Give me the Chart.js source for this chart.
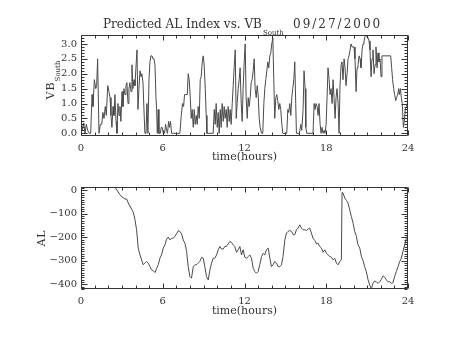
<!DOCTYPE html>
<html>
<head>
<meta charset="utf-8">
<script src="https://cdn.jsdelivr.net/npm/chart.js@4.4.1/dist/chart.umd.min.js"></script>
<style>
  body { margin: 0; background: #fff; }
  canvas { position: absolute; left: 0; }
  #vbChart { top: 0; }
  #alChart { top: 170px; }
</style>
</head>
<body>
<canvas id="vbChart" width="454" height="170"></canvas>
<canvas id="alChart" width="454" height="171"></canvas>
<script>
// x axis ticks (hours)
var hourTicks = [0, 6, 12, 18, 24];

// VB south (top panel)
var vbTicks = [0, 0.5, 1.0, 1.5, 2.0, 2.5, 3.0];
var vbHours = [
  0.00, 0.10, 0.20, 0.29, 0.39, 0.49, 0.61, 0.71, 0.81, 0.88, 0.98, 1.08, 1.15, 1.22, 1.32, 1.42,
  1.52, 1.61, 1.69, 1.78, 1.86, 1.96, 2.05, 2.13, 2.20, 2.27, 2.35, 2.42, 2.49, 2.57, 2.64, 2.71,
  2.79, 2.86, 2.93, 3.01, 3.08, 3.15, 3.23, 3.30, 3.37, 3.45, 3.52, 3.59, 3.67, 3.74, 3.81, 3.89,
  3.96, 4.03, 4.11, 4.18, 4.25, 4.33, 4.40, 4.47, 4.55, 4.62, 4.69, 4.77, 4.84, 4.91, 4.99, 5.06,
  5.13, 5.21, 5.28, 5.35, 5.43, 5.50, 5.55, 5.60, 5.67, 5.72, 5.82, 5.89, 5.96, 6.04, 6.13, 6.21,
  6.28, 6.35, 6.43, 6.50, 6.57, 6.65, 6.77, 7.26, 7.36, 7.45, 7.53, 7.60, 7.70, 7.80, 7.87, 7.94,
  8.02, 8.09, 8.16, 8.24, 8.31, 8.38, 8.46, 8.53, 8.60, 8.68, 8.75, 8.82, 8.90, 8.97, 9.04, 9.12,
  9.19, 9.24, 9.46, 9.70, 9.78, 9.85, 9.92, 10.00, 10.07, 10.14, 10.22, 10.29, 10.36, 10.44, 10.51, 10.58,
  10.66, 10.73, 10.80, 10.88, 10.95, 11.02, 11.10, 11.17, 11.24, 11.32, 11.39, 11.46, 11.54, 11.61, 11.68, 11.76,
  11.83, 11.90, 11.98, 12.05, 12.12, 12.20, 12.27, 12.34, 12.42, 12.49, 12.56, 12.64, 12.71, 12.78, 12.86, 12.93,
  13.00, 13.08, 13.15, 13.25, 13.34, 13.42, 13.49, 13.56, 13.64, 13.71, 13.78, 13.86, 13.93, 14.00, 14.08, 14.15,
  14.22, 14.30, 14.37, 14.44, 14.52, 14.59, 14.66, 14.74, 14.81, 15.10, 15.18, 15.25, 15.32, 15.40, 15.47, 15.54,
  15.62, 15.69, 15.76, 15.81, 15.93, 16.03, 16.13, 16.20, 16.30, 16.37, 16.45, 16.50, 16.57, 17.03, 17.11, 17.18,
  17.25, 17.33, 17.40, 17.47, 17.55, 17.62, 17.69, 17.77, 17.84, 17.91, 17.99, 18.06, 18.13, 18.21, 18.28, 18.35,
  18.43, 18.50, 18.57, 18.65, 18.72, 18.79, 18.87, 18.94, 19.01, 19.09, 19.16, 19.23, 19.31, 19.38, 19.45, 19.53,
  19.60, 19.67, 19.75, 19.82, 19.89, 19.97, 20.04, 20.11, 20.19, 20.26, 20.33, 20.41, 20.48, 20.55, 20.63, 20.70,
  20.77, 20.85, 20.92, 20.99, 21.07, 21.14, 21.21, 21.29, 21.36, 21.43, 21.51, 21.58, 21.65, 21.73, 21.80, 21.87,
  21.95, 22.02, 22.09, 22.17, 22.73, 22.80, 22.87, 22.95, 23.02, 23.10, 23.17, 23.24, 23.32, 23.36, 23.44, 23.51,
  23.58, 23.66, 23.73, 23.80, 23.88, 23.95, 24.00
];
var vbValues = [
  0.5, 0.1, 0.35, 0.0, 0.3, 0.1, 0.0, 0.0, 1.3, 0.9, 1.8, 1.5, 1.6, 2.5, 0.0, 0.3,
  0.3, 0.7, 0.5, 0.9, 0.6, 1.6, 1.4, 1.2, 0.6, 0.2, 0.9, 0.6, 1.3, 0.4, 0.0, 1.0,
  0.6, 0.9, 0.4, 1.4, 0.9, 1.5, 1.3, 1.6, 1.7, 1.0, 1.5, 1.7, 1.4, 2.3, 1.5, 1.8,
  1.6, 2.2, 2.8, 0.8, 1.5, 2.1, 1.9, 2.0, 1.7, 0.8, 0.0, 0.0, 1.0, 0.0, 1.8, 2.4,
  2.6, 2.6, 2.5, 2.5, 2.3, 1.2, 0.8, 0.0, 0.8, 0.0, 0.0, 0.2, 0.2, 0.0, 0.0, 0.3,
  0.1, 0.0, 0.4, 0.2, 0.4, 0.0, 0.0, 0.0, 0.6, 1.0, 0.9, 1.3, 1.3, 1.3, 2.0, 1.8,
  1.2, 0.5, 0.8, 0.2, 0.8, 0.3, 0.6, 0.3, 0.9, 0.5, 1.8, 1.9, 2.4, 2.6, 2.3, 1.5,
  0.6, 0.0, 0.0, 0.0, 0.8, 0.3, 1.0, 0.2, 0.7, 0.0, 0.8, 0.2, 1.0, 0.4, 0.9, 0.5,
  0.8, 0.2, 0.9, 0.4, 0.8, 0.3, 1.0, 1.6, 2.2, 2.8, 0.5, 1.0, 1.5, 1.8, 2.2, 1.0,
  0.4, 1.5, 2.4, 3.0, 1.2, 0.5, 1.2, 0.9, 1.2, 1.7, 1.8, 2.1, 2.5, 1.5, 1.2, 1.6,
  1.3, 0.5, 0.2, 0.0, 0.0, 1.0, 1.5, 1.8, 2.1, 2.4, 2.2, 2.6, 2.7, 3.0, 3.2, 1.8,
  0.5, 1.2, 1.3, 1.1, 0.8, 1.0, 0.8, 0.3, 0.0, 0.0, 0.8, 0.7, 1.0, 0.6, 1.2, 1.5,
  1.8, 2.4, 1.0, 0.0, 0.0, 0.0, 0.3, 0.1, 0.8, 2.1, 1.5, 0.2, 0.0, 0.0, 1.0, 0.8,
  1.0, 0.9, 0.6, 1.0, 0.3, 0.0, 0.2, 0.0, 0.1, 0.0, 0.3, 1.2, 2.2, 1.8, 1.3, 1.5,
  1.0, 1.8, 1.2, 0.5, 1.2, 1.5, 1.0, 0.0, 1.6, 2.3, 2.4, 1.8, 2.5, 2.2, 1.6, 2.0,
  2.5, 2.6, 2.8, 3.0, 2.9, 2.9, 2.9, 2.5, 1.4, 2.2, 2.3, 2.6, 2.5, 2.2, 2.8, 3.0,
  3.1, 3.25, 3.3, 3.25, 3.2, 3.1, 2.8, 1.9, 2.5, 2.8, 2.0, 2.3, 2.9, 2.2, 2.7, 2.4,
  2.5, 1.9, 2.6, 2.6, 2.6, 2.2, 1.8, 1.5, 1.3, 1.1, 1.2, 1.3, 1.5, 1.3, 1.5, 1.2,
  1.0, 0.2, 0.4, 0.8, 0.9, 1.0, 0.9
];

// AL index (bottom panel)
var alTicks = [0, -100, -200, -300, -400];
var alHours = [
  2.49, 2.86, 3.10, 3.23, 3.35, 3.47, 3.71, 3.84, 3.96, 4.08, 4.20, 4.33, 4.45, 4.57, 4.69, 4.81,
  4.94, 5.06, 5.18, 5.30, 5.43, 5.55, 5.67, 5.79, 5.91, 6.04, 6.16, 6.28, 6.40, 6.53, 6.65, 6.77,
  6.89, 7.01, 7.14, 7.26, 7.38, 7.50, 7.63, 7.75, 7.87, 7.99, 8.11, 8.24, 8.36, 8.48, 8.60, 8.72,
  8.85, 8.97, 9.09, 9.21, 9.34, 9.46, 9.58, 9.70, 9.82, 9.95, 10.07, 10.19, 10.31, 10.44, 10.56, 10.68,
  10.80, 10.92, 11.05, 11.17, 11.29, 11.41, 11.54, 11.66, 11.78, 11.90, 12.02, 12.15, 12.27, 12.39, 12.51, 12.64,
  12.76, 12.88, 13.00, 13.12, 13.25, 13.37, 13.49, 13.61, 13.74, 13.86, 13.98, 14.10, 14.22, 14.35, 14.47, 14.59,
  14.71, 14.83, 14.96, 15.08, 15.20, 15.32, 15.45, 15.57, 15.69, 15.81, 15.93, 16.06, 16.18, 16.30, 16.42, 16.55,
  16.67, 16.79, 16.91, 17.03, 17.16, 17.28, 17.40, 17.52, 17.65, 17.77, 17.89, 18.01, 18.13, 18.26, 18.38, 18.50,
  18.62, 18.75, 18.87, 18.99, 19.11, 19.16, 19.23, 19.36, 19.48, 19.60, 19.72, 19.84, 19.97, 20.09, 20.21, 20.33,
  20.46, 20.58, 20.70, 20.82, 20.94, 21.07, 21.19, 21.31, 21.43, 21.56, 21.68, 21.80, 21.92, 22.04, 22.17, 22.29,
  22.41, 22.53, 22.66, 22.78, 22.90, 23.02, 23.14, 23.27, 23.39, 23.51, 23.63, 23.76, 23.88, 24.00
];
var alValues = [
  14, -19, -33, -37, -37, -54, -80, -94, -125, -168, -246, -275, -296, -317, -310, -303,
  -310, -325, -339, -342, -350, -332, -317, -289, -275, -246, -232, -208, -199, -211, -204, -204,
  -196, -185, -172, -175, -185, -211, -225, -260, -325, -367, -374, -325, -317, -317, -310, -303,
  -285, -289, -325, -367, -381, -339, -310, -289, -289, -275, -253, -239, -250, -250, -239, -239,
  -228, -218, -222, -232, -239, -264, -253, -239, -275, -253, -285, -289, -282, -275, -289, -332,
  -346, -353, -346, -317, -282, -268, -275, -253, -246, -289, -325, -317, -303, -310, -325, -325,
  -317, -282, -211, -182, -175, -171, -175, -189, -189, -168, -161, -147, -161, -168, -168, -171,
  -165, -161, -182, -204, -214, -228, -225, -239, -246, -264, -253, -268, -275, -282, -285, -296,
  -289, -310, -317, -303, -296, -9, -11, -33, -43, -54, -83, -111, -140, -175, -196, -232,
  -246, -282, -299, -325, -346, -381, -403, -420, -396, -386, -389, -396, -389, -379, -364, -370,
  -381, -389, -389, -396, -393, -367, -346, -325, -303, -289, -260, -232, -204, -189
];

var fontFamily = "'DejaVu Serif', serif";
var textColor = '#333';

// IDL style box with inward ticks on all four sides
var idlFrame = {
  id: 'idlFrame',
  afterDatasetsDraw: function(chart, args, opts) {
    var ctx = chart.ctx, a = chart.chartArea;
    var x = chart.scales.x, y = chart.scales.y;
    var l = Math.round(a.left) + 0.5, r = Math.round(a.right) - 0.5;
    var t = Math.round(a.top) + 0.5, b = Math.round(a.bottom) - 0.5;
    ctx.save();
    ctx.strokeStyle = '#333';
    ctx.lineWidth = 1;
    ctx.beginPath();
    ctx.rect(l, t, r - l, b - t);

    for (var v = x.min; v <= x.max + 1e-9; v += opts.xMinor) {
      var px = Math.round(x.getPixelForValue(v)) + 0.5;
      var len = hourTicks.indexOf(Math.round(v)) >= 0 && Math.abs(v - Math.round(v)) < 1e-6 ? 5 : 3;
      ctx.moveTo(px, b); ctx.lineTo(px, b - len);
      ctx.moveTo(px, t); ctx.lineTo(px, t + len);
    }
    var start = Math.ceil(y.min / opts.yMinor - 1e-6) * opts.yMinor;
    for (var w = start; w <= y.max + 1e-9; w += opts.yMinor) {
      var py = Math.round(y.getPixelForValue(w)) + 0.5;
      var q = w / opts.yMajor;
      var len2 = Math.abs(q - Math.round(q)) < 1e-6 ? 6 : 3;
      ctx.moveTo(l, py); ctx.lineTo(l + len2, py);
      ctx.moveTo(r, py); ctx.lineTo(r - len2, py);
    }
    ctx.stroke();
    ctx.restore();
  },
  afterDraw: function(chart, args, opts) {
    var ctx = chart.ctx;
    ctx.save();
    ctx.fillStyle = textColor;
    ctx.textBaseline = 'alphabetic';
    if (opts.title) {
      ctx.textAlign = 'left';
      ctx.font = '12px ' + fontFamily;
      ctx.fillText('Predicted AL Index vs. VB', 103, 28);
      var wt = ctx.measureText('Predicted AL Index vs. VB').width;
      ctx.font = '7px ' + fontFamily;
      ctx.fillText('South', 103 + wt + 1, 35);
      ctx.font = '12px ' + fontFamily;
      ctx.letterSpacing = '2px';
      ctx.fillText('09/27/2000', 293, 28);
      ctx.letterSpacing = '0px';
    }
    // rotated y axis title, optional subscript
    ctx.translate(opts.yTitleX, opts.yTitleY);
    ctx.rotate(-Math.PI / 2);
    ctx.textAlign = 'left';
    ctx.textBaseline = 'middle';
    ctx.font = '11px ' + fontFamily;
    ctx.letterSpacing = '1px';
    var main = opts.yTitle;
    var mw = ctx.measureText(main).width;
    var sw = 0;
    if (opts.ySub) {
      ctx.font = '7px ' + fontFamily;
      ctx.letterSpacing = '0px';
      sw = ctx.measureText(opts.ySub).width;
      ctx.font = '11px ' + fontFamily;
      ctx.letterSpacing = '1px';
    }
    var x0 = -(mw + sw) / 2;
    ctx.fillText(main, x0, 0);
    if (opts.ySub) {
      ctx.font = '7px ' + fontFamily;
      ctx.letterSpacing = '0px';
      ctx.fillText(opts.ySub, x0 + mw, 7);
    }
    ctx.restore();
  }
};

function fixedTicks(list) {
  return function(scale) {
    scale.ticks = list.map(function(v) { return { value: v }; });
  };
}

function xScale(height, titlePad) {
  return {
    type: 'linear',
    min: 0,
    max: 24,
    afterBuildTicks: fixedTicks(hourTicks),
    afterFit: function(s) { s.height = height; },
    grid: { display: false, drawTicks: false },
    border: { display: false },
    ticks: { padding: 6, color: textColor, font: { family: fontFamily, size: 10 }, maxRotation: 0, autoSkip: false },
    title: { display: true, text: 'time(hours)', color: textColor, font: { family: fontFamily, size: 11 }, padding: { top: 0, bottom: titlePad } }
  };
}

var baseLine = { borderColor: '#4a4a4a', borderWidth: 1, pointRadius: 0, tension: 0, fill: false };

// top panel: VB south
new Chart(document.getElementById('vbChart'), {
  type: 'line',
  data: {
    datasets: [Object.assign({
      data: vbHours.map(function(h, i) { return { x: h, y: vbValues[i] }; })
    }, baseLine)]
  },
  options: {
    responsive: false,
    animation: false,
    devicePixelRatio: 1,
    layout: { padding: { top: 35, right: 46, left: 0, bottom: 0 } },
    plugins: {
      legend: { display: false },
      tooltip: { enabled: false },
      idlFrame: { xMinor: 1, yMinor: 0.1, yMajor: 0.5, title: true, yTitle: 'VB', ySub: 'South', yTitleX: 51, yTitleY: 80 }
    },
    scales: {
      x: xScale(34, 6),
      y: {
        min: -0.09,
        max: 3.3,
        afterBuildTicks: fixedTicks(vbTicks),
        afterFit: function(s) { s.width = 81; },
        grid: { display: false, drawTicks: false },
        border: { display: false },
        ticks: { padding: 4, color: textColor, font: { family: fontFamily, size: 10 }, callback: function(v) { return v.toFixed(1); } }
      }
    }
  },
  plugins: [idlFrame]
});

// bottom panel: AL index
new Chart(document.getElementById('alChart'), {
  type: 'line',
  data: {
    datasets: [Object.assign({
      data: alHours.map(function(h, i) { return { x: h, y: alValues[i] }; })
    }, baseLine)]
  },
  options: {
    responsive: false,
    animation: false,
    devicePixelRatio: 1,
    layout: { padding: { top: 17, right: 46, left: 0, bottom: 0 } },
    plugins: {
      legend: { display: false },
      tooltip: { enabled: false },
      idlFrame: { xMinor: 1, yMinor: 10, yMajor: 100, title: false, yTitle: 'AL', ySub: '', yTitleX: 42, yTitleY: 68 }
    },
    scales: {
      x: xScale(52, 23),
      y: {
        min: -420,
        max: 14,
        afterBuildTicks: fixedTicks(alTicks),
        afterFit: function(s) { s.width = 81; },
        grid: { display: false, drawTicks: false },
        border: { display: false },
        ticks: { padding: 4, color: textColor, font: { family: fontFamily, size: 10 }, callback: function(v) { return v === 0 ? '0' : '\u2212' + Math.abs(v); } }
      }
    }
  },
  plugins: [idlFrame]
});
</script>
</body>
</html>
